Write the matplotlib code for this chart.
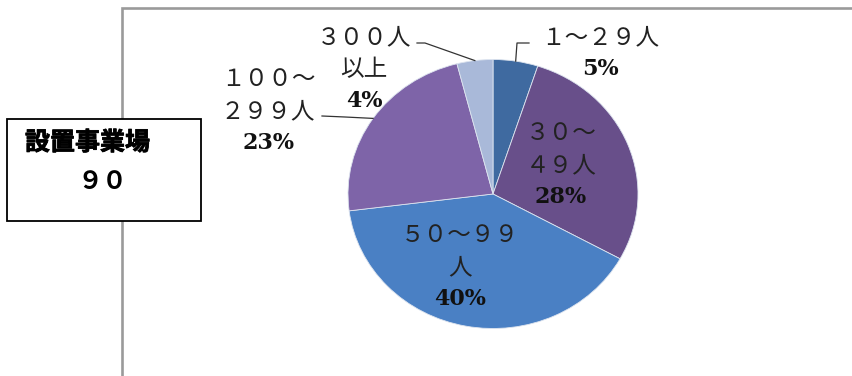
import matplotlib
matplotlib.use("Agg")
import matplotlib.pyplot as plt
import matplotlib.patheffects as pe
import numpy as np
from matplotlib.patches import Rectangle

# establishment size groups (clockwise from 12 o'clock) and their shares
categories = ["１～２９人", "３０～\n４９人", "５０～９９\n人", "１００～\n２９９人", "３００人\n以上"]
shares = [5, 28, 40, 23, 4]
colors = ["#3f6aa0", "#684f8a", "#4a80c4", "#7e64a8", "#a9b9d9"]
box_title = "設置事業場"
box_value = "９０"

W, H = 852, 376
jp_font = ["Noto Sans CJK JP", "DejaVu Sans"]

fig = plt.figure(figsize=(W / 100, H / 100), dpi=100)
fig.patch.set_facecolor("white")

# pie sits in its own axes so it can be slightly wider than tall
cx, cy, rx, ry = 493, 194, 145, 134.5
ax_pie = fig.add_axes([(cx - rx) / W, (H - cy - ry) / H, 2 * rx / W, 2 * ry / H])
wedges, _ = ax_pie.pie(
    shares,
    colors=colors,
    startangle=90,
    counterclock=False,
    radius=1,
    wedgeprops=dict(edgecolor="#dde4ef", linewidth=0.6),
)
ax_pie.set_aspect("auto")
ax_pie.set_xlim(-1, 1)
ax_pie.set_ylim(-1, 1)
ax_pie.axis("off")
ax_pie.set_zorder(1)

# overlay in pixel coordinates for frame, box, labels and leaders
ax = fig.add_axes([0, 0, 1, 1])
ax.set_xlim(0, W)
ax.set_ylim(H, 0)
ax.axis("off")
ax.set_zorder(2)

ax.plot([122, 122, W + 5], [H + 5, 8, 8], color="#9a9a9a", lw=1.9,
        solid_joinstyle="miter", zorder=1)

ax.add_patch(Rectangle((7, 119), 194, 102, facecolor="white",
                       edgecolor="black", lw=1.3, zorder=3))
ax.text(25, 143, box_title, family=jp_font, fontsize=18, fontweight="bold",
        ha="left", va="center", zorder=4,
        path_effects=[pe.withStroke(linewidth=0.6, foreground="black")])
ax.text(102, 182, box_value, family=jp_font, fontsize=18, fontweight="bold",
        ha="center", va="center", zorder=4)


def edge_point(w):
    mid = np.deg2rad((w.theta1 + w.theta2) / 2)
    return cx + rx * np.cos(mid), cy - ry * np.sin(mid)


def draw_label(x, y, text, pct, step=32, pct_step=31):
    lines = text.split("\n")
    for i, ln in enumerate(lines):
        ax.text(x, y + i * step, ln, family=jp_font, fontsize=17,
                ha="center", va="center", color="#222222", zorder=4)
    ax.text(x, y + (len(lines) - 1) * step + pct_step, f"{pct}%",
            family="DejaVu Serif", fontsize=16, fontweight="bold",
            ha="center", va="center", color="#111111", zorder=4)


# label anchors: centre of the first text line
anchors = [(600, 38), (561, 134), (460, 236), (268, 80), (364, 38)]
for (x, y), cat, pct in zip(anchors, categories, shares):
    draw_label(x, y, cat, pct)

# leader lines for the outside labels
ex, ey = edge_point(wedges[0])
ax.plot([ex, 517, 529], [ey, 43, 43], color="#333333", lw=0.9, zorder=4)
ex, ey = edge_point(wedges[4])
ax.plot([ex, 425, 417], [ey, 43, 43], color="#333333", lw=0.9, zorder=4)
ex, ey = edge_point(wedges[3])
ax.plot([ex, 345, 322], [ey, 117, 116], color="#333333", lw=0.9, zorder=4)

fig.savefig("out.png", dpi=100, facecolor="white")
